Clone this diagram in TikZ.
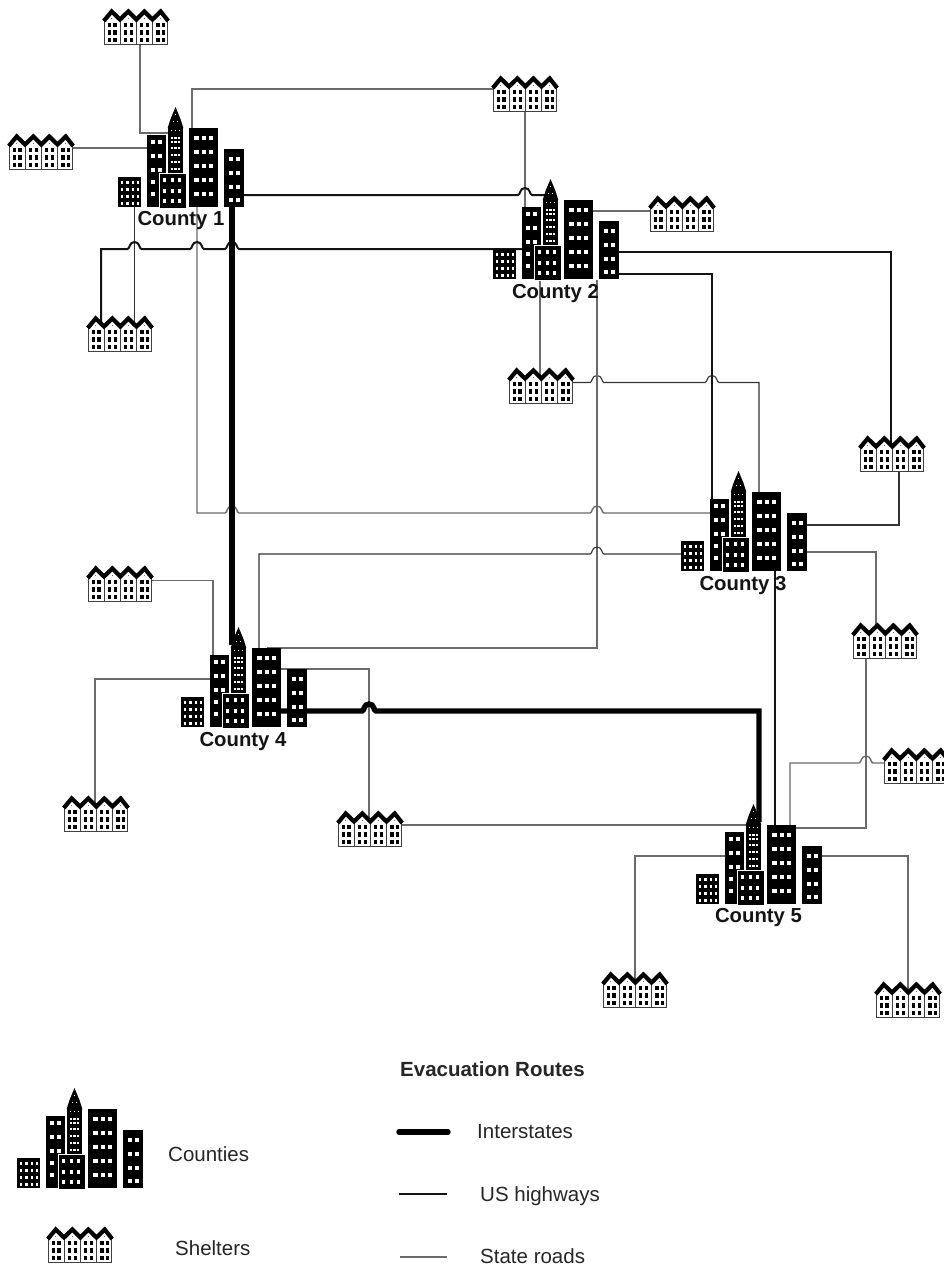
\documentclass[tikz,border=0pt]{standalone}
\usepackage{fontspec}
\setmainfont{Liberation Sans}
\usetikzlibrary{backgrounds}
\def\hop#1#2{-- (#1-7,#2) .. controls (#1-4.5,#2) and (#1-5.5,#2-7) .. (#1,#2-7) .. controls (#1+5.5,#2-7) and (#1+4.5,#2) .. (#1+7,#2)}
\tikzset{
  state/.style={draw=black!58,line width=1.4pt,line join=miter},
  statethin/.style={draw=black!80,line width=1.1pt,line join=miter},
  ushwy/.style={draw=black!92,line width=2pt,line join=miter},
  inter/.style={draw=black,line width=5.4pt,line join=miter},
  box/.style={inner sep=0pt,outer sep=0pt,draw=none},
  cbox/.style={box,minimum width=126pt,minimum height=102pt},
  sbox/.style={box,minimum width=65pt,minimum height=37pt},
  clabel/.style={anchor=base,inner sep=0pt,font=\fontsize{20.3}{24}\selectfont\bfseries,text=black!92},
  ltext/.style={anchor=base west,inner sep=0pt,font=\fontsize{20.5}{24}\selectfont,text=black!85},
  county/.pic={
    \node[cbox] (-box) at (63,-50) {};
    \coordinate (-small) at (11.5,-15);
    \coordinate (-tall) at (38.5,-36);
    \coordinate (-tower) at (57.5,-57);
    \coordinate (-front) at (54.5,-17);
    \coordinate (-big) at (85.5,-39.5);
    \coordinate (-right) at (116,-29);
    \coordinate (-spire) at (57.5,-82);
    % small block
    \fill[black] (0,-30) rectangle (23,0);
    \foreach \x in {2.7,8.4,14,19}
      \foreach \y in {-25.7,-18.7,-11.6,-5}
        \fill[white] (\x,\y) rectangle ++(2.4,2.5);
    % tall left block
    \fill[black] (29,-72) rectangle (48,0);
    \foreach \x in {32.7,39.7}
      \foreach \y in {-67,-53,-39}
        \fill[white] (\x,\y) rectangle ++(4.4,4);
    \foreach \y in {-27,-15.3}
      \fill[white] (32.7,\y) rectangle ++(4.4,4);
    % tower
    \fill[black] (50,-80) rectangle (65,-34);
    \fill[black] (49.7,-79) -- (52.5,-88) -- (57.5,-100) -- (62.5,-88) -- (65.3,-79) -- cycle;
    \foreach \x in {52.8,56.3,59.8}
      \foreach \y in {-70.3,-66.3,-59.7,-53,-46.3,-39}
        \fill[white] (\x,\y) rectangle ++(2.5,2);
    \foreach \x in {53,57,61}
      \fill[white] (\x,-77.5) rectangle ++(1.3,1.3);
    \foreach \x in {54.6,59}
      \fill[white] (\x,-86) rectangle ++(1.2,1.2);
    \fill[white] (57,-93) rectangle ++(1,1.2);
    % front block
    \fill[black,draw=white,line width=0.7pt] (41,-34) rectangle (68,1);
    \foreach \x in {45.3,52.7,59.7}
      \foreach \y in {-28.7,-18.3,-8.3}
        \fill[white] (\x,\y) rectangle ++(2.8,4);
    % big block
    \fill[black] (71,-79) rectangle (100,0);
    \foreach \x in {76.3,83.7,90.7}
      \foreach \y in {-71,-57,-43,-28.7,-14.7}
        \fill[white] (\x,\y) rectangle ++(4.6,4);
    % right block
    \fill[black] (106,-58) rectangle (126,0);
    \foreach \x in {111,117.7}
      \foreach \y in {-50.3,-36,-22,-9.3}
        \fill[white] (\x,\y) rectangle ++(4.2,4);
  },
  shelter/.pic={
    \node[sbox] (-box) at (33,-18.5) {};
    \fill[white] (1.5,-25) -- (8.7,-34) -- (17,-26) -- (25.3,-34) -- (33.3,-26) -- (41.3,-34) -- (49.5,-26) -- (57.7,-34) -- (64.5,-25) -- (64.5,-0.5) -- (1.5,-0.5) -- cycle;
    \draw[black!75,line width=1pt] (1.5,-25) -- (1.5,-0.5) -- (64.5,-0.5) -- (64.5,-25);
    \foreach \x in {17,33.3,49.5}
      \draw[black!75,line width=1pt] (\x,-26) -- (\x,-0.5);
    \foreach \h in {0,16.2,32.4,48.6} {
      \foreach \y in {-22.3,-14.6,-7.3} {
        \fill[black] (4.5+\h,\y) rectangle ++(3.4,4.3);
        \fill[black] (10.4+\h,\y) rectangle ++(3.4,4.3);
      }
      \fill[black!55] (8.3+\h,-27.5) rectangle ++(0.9,1.8);
    }
    \draw[black,line width=4.2pt,line join=miter,miter limit=3] (0.8,-24) -- (8.7,-33.5) -- (17,-25.5) -- (25.3,-33.5) -- (33.3,-25.5) -- (41.3,-33.5) -- (49.5,-25.5) -- (57.7,-33.5) -- (65.2,-24);
  }
}
\begin{document}
\begin{tikzpicture}[x=1pt,y=-1pt]
\useasboundingbox (0,0) rectangle (943,1267);
% counties
\pic (c1) at (118,207) {county};
\pic (c2) at (493,279) {county};
\pic (c3) at (681,571) {county};
\pic (c4) at (181,727) {county};
\pic (c5) at (696,904) {county};
% shelters
\pic (s1) at (103,45) {shelter};
\pic (s2) at (8,170) {shelter};
\pic (s3) at (492,112) {shelter};
\pic (s4) at (649,232) {shelter};
\pic (s5) at (87,352) {shelter};
\pic (s6) at (508,404) {shelter};
\pic (s7) at (859,472) {shelter};
\pic (s8) at (852,659) {shelter};
\pic (s9) at (883,784) {shelter};
\pic (s10) at (87,602) {shelter};
\pic (s11) at (63,832) {shelter};
\pic (s12) at (337,847) {shelter};
\pic (s13) at (602,1008) {shelter};
\pic (s14) at (875,1018) {shelter};
% county labels
\node[clabel] (l1) at (181,225) {County 1};
\node[clabel] (l2) at (555.5,298) {County 2};
\node[clabel] (l3) at (743,590) {County 3};
\node[clabel] (l4) at (243,746) {County 4};
\node[clabel] (l5) at (758.5,922) {County 5};
% legend
\pic (lc) at (17,1188) {county};
\pic (ls) at (47,1263) {shelter};
\node[ltext] (t1) at (168,1161) {Counties};
\node[ltext] (t2) at (175,1255) {Shelters};
\node[ltext,font=\fontsize{20.5}{24}\selectfont\bfseries] (t3) at (400,1076) {Evacuation Routes};
\node[ltext] (t4) at (477,1138) {Interstates};
\node[ltext] (t5) at (480,1201) {US highways};
\node[ltext] (t6) at (480,1263) {State roads};
\coordinate (i1) at (399,1132);
\coordinate (u1) at (399,1194);
\coordinate (r1) at (400,1257);
\draw[inter,line cap=round] (i1) -- ++(49,0);
\draw[ushwy] (u1) -- ++(48,0);
\draw[state] (r1) -- ++(47,0);
% connectors behind everything
\begin{scope}[on background layer]
\fill[white] (0,0) rectangle (943,1267);
% state roads
\draw[state] (140,0 |- s1-box) -- (140,133) -- (c1-tower |- 0,133);
\draw[state] (s2-box |- 0,148) -- (c1-tall |- 0,148);
\draw[state] (s3-box |- 0,89) -- (192,89) -- (192,0 |- c1-big);
\draw[state] (525,0 |- s3-box) -- (525,0 |- c2-tall);
\draw[state] (s4-box |- 0,211) -- (c2-big |- 0,211);
\draw[statethin] (134.5,0 |- c1-small) -- (134.5,0 |- s5-box.south);
\draw[state] (197,0 |- c1-big) -- (197,513) \hop{232}{513} \hop{597}{513} -- (c3-tall |- 0,513);
\draw[state] (540,0 |- c2-front) -- (540,0 |- s6-box);
\draw[statethin] (s6-box |- 0,382.5) \hop{597}{382.5} \hop{712}{382.5} -- (759,382.5) -- (759,0 |- c3-big);
\draw[state] (597,0 |- c2-box.south) -- (597,648) -- (c4-big |- 0,648);
\draw[statethin] (259,0 |- c4-big) -- (259,554) \hop{597}{554} -- (c3-small |- 0,554);
\draw[statethin] (899,0 |- s7-box) -- (899,525) -- (c3-right |- 0,525);
\draw[state] (c3-right |- 0,552) -- (876,552) -- (876,0 |- s8-box);
\draw[state] (866,0 |- s8-box) -- (866,828) -- (c5-big |- 0,828);
\draw[state] (790,0 |- c5-big) -- (790,763) \hop{866}{763} -- (s9-box |- 0,763);
\draw[state] (s10-box |- 0,580.5) -- (213,580.5) -- (213,0 |- c4-tall);
\draw[state] (95,0 |- s11-box) -- (95,679) -- (c4-tall |- 0,679);
\draw[state] (c4-big |- 0,669) -- (369,669) -- (369,0 |- s12-box);
\draw[state] (s12-box |- 0,825) -- (c5-tower |- 0,825);
\draw[state] (c5-tall |- 0,856) -- (635,856) -- (635,0 |- s13-box);
\draw[state] (c5-right |- 0,856) -- (908,856) -- (908,0 |- s14-box);
% US highways
\draw[ushwy] (c1-right |- 0,195) \hop{525}{195} -- (c2-tower |- 0,195);
\draw[ushwy] (101,0 |- s5-box) -- (101,249) \hop{134.5}{249} \hop{197}{249} \hop{232}{249} -- (c2-tall |- 0,249);
\draw[ushwy] (c2-right |- 0,252) -- (891,252) -- (891,0 |- s7-box);
\draw[ushwy] (c2-right |- 0,274) -- (712,274) -- (712,0 |- c3-tall);
\draw[ushwy] (775,0 |- c3-big) -- (775,0 |- c5-big);
% interstates
\draw[inter] (232,0 |- c1-right) -- (232,0 |- c4-spire);
\draw[inter] (c4-big |- 0,711) \hop{369}{711} -- (759,711) -- (759,0 |- c5-spire);
\end{scope}
\end{tikzpicture}
\end{document}
